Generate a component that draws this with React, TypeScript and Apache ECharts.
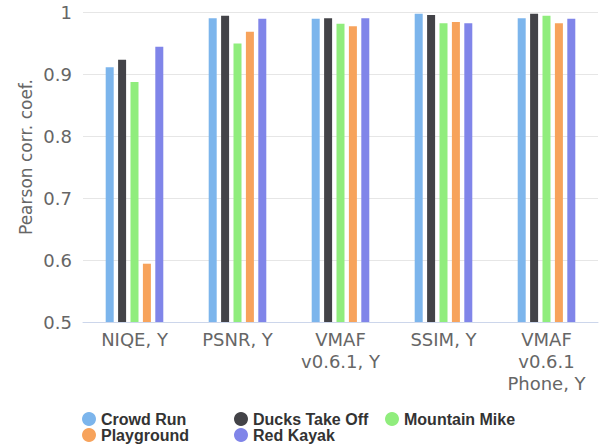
import React, { useEffect, useRef } from "react";
import * as echarts from "echarts";

const categories = ["NIQE, Y", "PSNR, Y", "VMAF\nv0.6.1, Y", "SSIM, Y", "VMAF\nv0.6.1\nPhone, Y"];
const seriesNames = ["Crowd Run", "Ducks Take Off", "Mountain Mike", "Playground", "Red Kayak"];
const colors = ["#7cb5ec", "#434348", "#90ed7d", "#f7a35c", "#8085e9"];
const crowdRun = [0.911, 0.990, 0.989, 0.997, 0.990];
const ducksTakeOff = [0.923, 0.994, 0.990, 0.995, 0.997];
const mountainMike = [0.887, 0.949, 0.981, 0.982, 0.994];
const playground = [0.594, 0.968, 0.977, 0.984, 0.982];
const redKayak = [0.944, 0.989, 0.990, 0.982, 0.989];
const yTicks = { min: 0.5, max: 1, interval: 0.1 };
const yTitle = "Pearson corr. coef.";

const values = [crowdRun, ducksTakeOff, mountainMike, playground, redKayak];

// legend placement: [left, top] per item
const legendPos: [number, number][] = [
  [82, 411],
  [234, 411],
  [385, 411],
  [82, 427],
  [234, 427],
];

export default function App() {
  const ref = useRef<HTMLDivElement>(null);
  useEffect(() => {
    if (!ref.current) return;
    const chart = echarts.init(ref.current, null, { renderer: "svg" });
    const font = "DejaVu Sans, sans-serif";
    chart.setOption({
      animation: false,
      backgroundColor: "#ffffff",
      grid: { left: 83, right: 2, top: 12, bottom: 126, containLabel: false },
      xAxis: {
        type: "category",
        data: categories,
        axisLine: { show: true, lineStyle: { color: "#ccd6eb", width: 1 } },
        axisTick: { show: false },
        axisLabel: {
          color: "#666666",
          fontSize: 18,
          fontFamily: font,
          margin: 6,
          lineHeight: 22,
          interval: 0,
        },
        splitLine: { show: false },
      },
      yAxis: {
        type: "value",
        min: yTicks.min,
        max: yTicks.max,
        interval: yTicks.interval,
        axisLine: { show: false },
        axisTick: { show: false },
        axisLabel: {
          color: "#666666",
          fontSize: 18,
          fontFamily: font,
          margin: 11,
          padding: [6, 0, 0, 0],
        },
        splitLine: { show: true, lineStyle: { color: "#e6e6e6", width: 1 } },
      },
      legend: seriesNames.map((name, i) => ({
        data: [name],
        left: legendPos[i][0],
        top: legendPos[i][1],
        padding: 0,
        icon: "circle",
        itemWidth: 14,
        itemHeight: 14,
        selectedMode: false,
        textStyle: {
          color: "#333333",
          fontSize: 16,
          fontWeight: "bold",
          fontFamily: "Liberation Sans, Arial, sans-serif",
        },
      })),
      graphic: [
        {
          type: "text",
          x: 26,
          y: 157,
          rotation: Math.PI / 2,
          style: {
            text: yTitle,
            fill: "#666666",
            fontSize: 17,
            fontFamily: font,
            textAlign: "center",
            textVerticalAlign: "middle",
          },
        },
      ],
      series: seriesNames.map((name, i) => ({
        name,
        type: "bar",
        data: values[i],
        barWidth: 8,
        barGap: "55%",
        itemStyle: { color: colors[i] },
      })),
    });
    return () => chart.dispose();
  }, []);
  return (
    <div
      ref={ref}
      style={{ position: "absolute", left: 0, top: 0, width: 600, height: 448 }}
    />
  );
}
